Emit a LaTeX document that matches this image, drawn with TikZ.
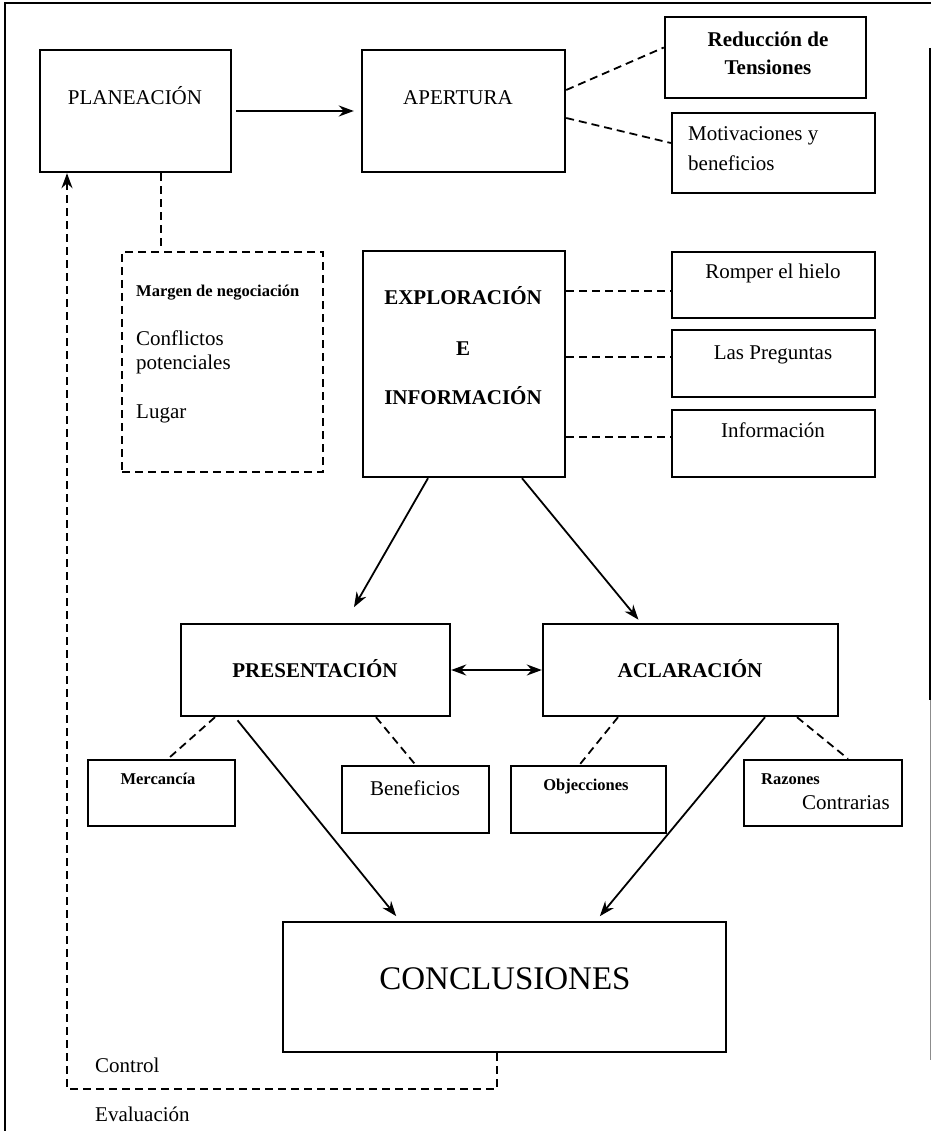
\documentclass[tikz,border=0pt]{standalone}
\usepackage{fontspec}
\setmainfont{Liberation Serif}
\usetikzlibrary{arrows.meta}

\tikzset{
  box/.style={draw, line width=2.4pt, inner sep=0pt},
  dbox/.style={draw, line width=2pt, inner sep=0pt, dash pattern=on 8pt off 5pt},
  txt/.style={font=\fontsize{21}{25}\selectfont, inner sep=0pt, anchor=base},
  btxt/.style={font=\fontsize{21}{25}\selectfont\bfseries, inner sep=0pt, anchor=base},
  stxt/.style={font=\fontsize{16.5}{19}\selectfont\bfseries, inner sep=0pt, anchor=base},
  link/.style={line width=1.8pt, dash pattern=on 8pt off 5pt},
  flow/.style={->, line width=1.8pt}
}

\begin{document}
\begin{tikzpicture}[x=1pt,y=-1pt,>={Stealth[length=15pt,width=11pt]}]
        \useasboundingbox (0,0) rectangle (933,1131);
        % marco de la pagina
        \draw[line width=1.8pt] (5,1131) -- (5,3) -- (931,3);
        \draw[line width=1.4pt] (930,48) -- (930,700);
        \draw[line width=0.8pt, black!45] (930,700) -- (930,1060);

        % fila superior
        \node[box, minimum width=191pt, minimum height=122pt] (plan) at (135.5,111) {};
        \node[txt] (plant) at (135,105) {PLANEACIÓN};
        \node[box, minimum width=203pt, minimum height=122pt] (aper) at (463.5,111) {};
        \node[txt] (apert) at (458,105) {APERTURA};
        \node[box, minimum width=201pt, minimum height=81pt] (reduc) at (765.5,57.5) {};
        \node[btxt] (reduct1) at (768,47) {Reducción de};
        \node[btxt] (reduct2) at (768,75) {Tensiones};
        \node[box, minimum width=203pt, minimum height=80pt] (motiv) at (773.5,153) {};
        \node[txt, anchor=base west] (motivt1) at (688,141) {Motivaciones y};
        \node[txt, anchor=base west] (motivt2) at (688,171) {beneficios};

        % margen, exploracion
        \node[dbox, minimum width=201pt, minimum height=220pt] (margen) at (222.5,362) {};
        \node[stxt, anchor=base west] (margent1) at (136,297) {Margen de negociación};
        \node[txt, anchor=base west] (margent2) at (136,345) {Conflictos};
        \node[txt, anchor=base west] (margent3) at (136,369) {potenciales};
        \node[txt, anchor=base west] (margent4) at (136,418) {Lugar};
        \node[box, minimum width=202pt, minimum height=226pt] (explo) at (464,364) {};
        \node[btxt] (explot1) at (463,305) {EXPLORACIÓN};
        \node[btxt] (explot2) at (463,355) {E};
        \node[btxt] (explot3) at (463,404) {INFORMACIÓN};
        \node[box, minimum width=203pt, minimum height=66pt] (romper) at (773.5,285) {};
        \node[txt] (rompert) at (773,279) {Romper el hielo};
        \node[box, minimum width=203pt, minimum height=67pt] (preg) at (773.5,363.5) {};
        \node[txt] (pregt) at (773,359) {Las Preguntas};
        \node[box, minimum width=203pt, minimum height=67pt] (info) at (773.5,443.5) {};
        \node[txt] (infot) at (773,437) {Información};

        % presentacion y aclaracion
        \node[box, minimum width=269pt, minimum height=92pt] (pres) at (315.5,670) {};
        \node[btxt] (prest) at (315,677) {PRESENTACIÓN};
        \node[box, minimum width=295pt, minimum height=92pt] (acl) at (690.5,670) {};
        \node[btxt] (aclt) at (690,677) {ACLARACIÓN};
        \node[box, minimum width=147pt, minimum height=66pt] (merc) at (161.5,793) {};
        \node[stxt] (merct) at (158,784) {Mercancía};
        \node[box, minimum width=147pt, minimum height=67pt] (benef) at (415.5,799.5) {};
        \node[txt] (beneft) at (415,795) {Beneficios};
        \node[box, minimum width=155pt, minimum height=67pt] (objec) at (588.5,799.5) {};
        \node[stxt] (object) at (586,790) {Objecciones};
        \node[box, minimum width=158pt, minimum height=66pt] (razon) at (823,793) {};
        \node[stxt, anchor=base west] (razont1) at (761,784) {Razones};
        \node[txt, anchor=base west] (razont2) at (802,809) {Contrarias};

        % conclusiones
        \node[box, minimum width=443pt, minimum height=130pt] (concl) at (504.5,987) {};
        \node[txt, font=\fontsize{33}{38}\selectfont] (conclt) at (505,989) {CONCLUSIONES};
        \node[txt, anchor=base west] (control) at (95,1072) {Control};
        \node[txt, anchor=base west] (evalua) at (95,1121) {Evaluación};
        \coordinate (ret) at (67,1089);

        % conectores
        \draw[flow, shorten <=4pt, shorten >=7pt] (plan.east) -- (aper.west);
        \draw[link] ([yshift=21pt]aper.east) -- ([yshift=10pt]reduc.west);
        \draw[link] ([yshift=-7pt]aper.east) -- ([yshift=10pt]motiv.west);
        \draw[link] ([xshift=25.5pt]plan.south) -- ([xshift=-61.5pt]margen.north);
        \draw[link] ([yshift=-6pt]romper.west -| explo.east) -- ([yshift=-6pt]romper.west);
        \draw[link] ([yshift=6.5pt]preg.west -| explo.east) -- ([yshift=6.5pt]preg.west);
        \draw[link] ([yshift=6.5pt]info.west -| explo.east) -- ([yshift=6.5pt]info.west);
        \draw[flow, shorten >=18pt] ([xshift=-36pt]explo.south) -- ([xshift=29.5pt]pres.north);
        \draw[flow, shorten >=4pt] ([xshift=58pt]explo.south) -- ([xshift=-49.5pt]acl.north);
        \draw[<->, line width=1.8pt] (pres.east) -- (acl.west);
        \draw[link] ([xshift=-100.5pt]pres.south) -- ([xshift=6.5pt]merc.north);
        \draw[link] ([xshift=60.5pt]pres.south) -- (benef.north);
        \draw[link] ([xshift=-72.5pt]acl.south) -- ([xshift=-9pt]objec.north);
        \draw[link] ([xshift=106.5pt]acl.south) -- ([xshift=25pt]razon.north);
        \draw[flow, shorten <=4pt, shorten >=6pt] ([xshift=-80.5pt]pres.south) -- ([xshift=-104.5pt]concl.north);
        \draw[flow, shorten >=6pt] ([xshift=74.5pt]acl.south) -- ([xshift=91.5pt]concl.north);
        \draw[link, ->] ([xshift=-7.5pt]concl.south) |- (ret) -- ([xshift=-68.5pt]plan.south);
\end{tikzpicture}
\end{document}
